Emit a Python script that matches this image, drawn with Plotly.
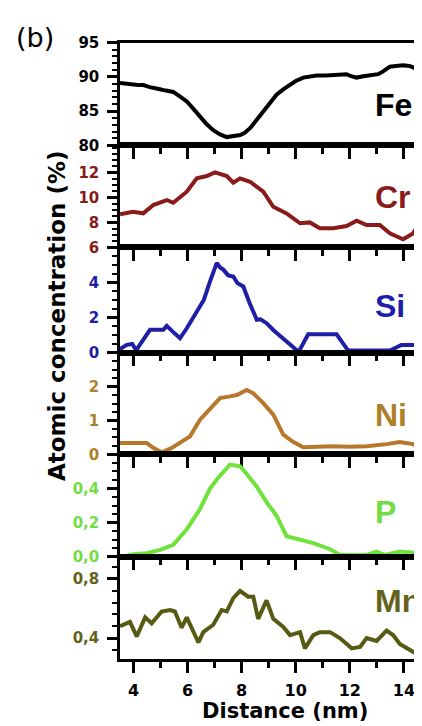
import plotly.graph_objects as go

# ---------------- data ----------------
fe_x = [3.50, 3.56, 3.80, 4.00, 4.20, 4.36, 4.60, 4.80, 4.98, 5.20, 5.47, 5.70, 5.97, 6.20, 6.46, 6.70,
        6.95, 7.20, 7.45, 7.70, 7.94, 8.10, 8.31, 8.55, 8.80, 9.05, 9.29, 9.55, 9.79, 10.00, 10.28,
        10.50, 10.77, 11.10, 11.39, 11.60, 11.88, 12.05, 12.25, 12.50, 12.87, 13.05, 13.23, 13.48,
        13.70, 13.97, 14.20, 14.34, 14.50, 14.67]
fe_y = [89.1, 89.06, 88.9, 88.9, 88.8, 88.8, 88.5, 88.4, 88.2, 88.0, 87.8, 87.2, 86.4, 85.4, 84.2, 83.1,
        82.2, 81.6, 81.2, 81.4, 81.5, 81.8, 82.5, 83.7, 84.9, 86.2, 87.4, 88.2, 88.8, 89.4, 89.9,
        90.0, 90.2, 90.2, 90.3, 90.3, 90.4, 90.1, 89.9, 90.1, 90.3, 90.4, 90.8, 91.5,
        91.6, 91.7, 91.6, 91.4, 91.0, 90.0]

cr_x = [3.50, 3.56, 3.97, 4.36, 4.73, 5.23, 5.47, 5.97, 6.34, 6.71, 7.01, 7.45, 7.69, 7.94, 8.31, 8.80,
        9.17, 9.66, 10.16, 10.52, 10.89, 11.39, 11.88, 12.25, 12.62, 13.11, 13.48, 13.97, 14.34, 14.67]
cr_y = [8.65, 8.67, 8.86, 8.73, 9.40, 9.80, 9.58, 10.47, 11.54, 11.73, 12.02, 11.73, 11.19, 11.54, 11.27,
        10.47, 9.26, 8.73, 7.93, 8.00, 7.53, 7.53, 7.71, 8.14, 7.79, 7.79, 7.12, 6.64, 7.12, 8.3]

si_x = [3.50, 3.75, 3.95, 4.10, 4.30, 4.61, 5.10, 5.23, 5.45, 5.72, 5.97, 6.20, 6.46, 6.60, 6.83, 7.08,
        7.20, 7.32, 7.50, 7.69, 7.85, 8.06, 8.30, 8.56, 8.70, 8.92, 9.20, 9.54, 9.80, 10.03, 10.09,
        10.46, 11.51, 11.94, 13.48, 13.91, 14.67]
si_y = [0.20, 0.45, 0.50, 0.15, 0.60, 1.30, 1.30, 1.53, 1.20, 0.82, 1.39, 2.00, 2.73, 3.00, 4.06, 5.11,
        4.85, 4.73, 4.40, 4.34, 3.95, 3.77, 2.80, 1.87, 1.90, 1.68, 1.25, 0.82, 0.50, 0.15, 0.00,
        1.05, 1.05, 0.12, 0.12, 0.44, 0.44]

ni_x = [3.50, 3.56, 4.49, 4.73, 5.04, 5.40, 5.72, 6.09, 6.46, 6.83, 7.20, 7.57, 7.82, 8.19, 8.43, 8.80,
        9.17, 9.54, 9.91, 10.28, 10.80, 11.39, 12.00, 12.62, 13.36, 13.85, 14.34, 14.67]
ni_y = [0.33, 0.33, 0.33, 0.19, 0.06, 0.18, 0.33, 0.53, 1.02, 1.36, 1.66, 1.71, 1.75, 1.90, 1.80, 1.51,
        1.17, 0.58, 0.36, 0.21, 0.22, 0.24, 0.22, 0.24, 0.30, 0.36, 0.30, 0.15]

p_x = [3.50, 3.56, 4.00, 4.50, 4.98, 5.47, 5.97, 6.46, 6.83, 7.20, 7.57, 7.94, 8.19, 8.56, 8.92, 9.29,
       9.66, 10.16, 10.65, 11.27, 11.63, 12.62, 12.99, 13.30, 13.85, 14.67]
p_y = [0.00, 0.00, 0.014, 0.02, 0.04, 0.07, 0.16, 0.28, 0.40, 0.475, 0.54, 0.53, 0.485, 0.41, 0.32, 0.24,
       0.12, 0.10, 0.08, 0.044, 0.01, 0.01, 0.03, 0.01, 0.03, 0.02]

mn_x = [3.50, 3.56, 3.87, 4.12, 4.43, 4.67, 5.04, 5.35, 5.53, 5.78, 5.97, 6.40, 6.58, 6.95, 7.26, 7.45,
        7.69, 7.94, 8.24, 8.43, 8.61, 8.92, 9.17, 9.54, 9.79, 10.16, 10.34, 10.65, 10.89, 11.27, 11.63,
        12.07, 12.38, 12.62, 12.99, 13.36, 13.60, 13.85, 14.34, 14.67]
mn_y = [0.48, 0.486, 0.51, 0.41, 0.54, 0.50, 0.58, 0.59, 0.58, 0.47, 0.54, 0.37, 0.44, 0.49, 0.59, 0.58,
        0.67, 0.72, 0.68, 0.68, 0.53, 0.655, 0.53, 0.475, 0.42, 0.44, 0.33, 0.42, 0.44, 0.44, 0.40,
        0.33, 0.34, 0.40, 0.38, 0.45, 0.42, 0.36, 0.305, 0.27]

names = ["Fe", "Cr", "Si", "Ni", "P", "Mn"]
xs = [fe_x, cr_x, si_x, ni_x, p_x, mn_x]
ys = [fe_y, cr_y, si_y, ni_y, p_y, mn_y]

y_ranges = [[80, 95], [6, 14.2], [0, 6], [0, 3], [0, 0.6], [0.258, 0.951]]
y_tickvals = [[80, 85, 90, 95], [6, 8, 10, 12], [0, 2, 4], [0, 1, 2], [0.0, 0.2, 0.4], [0.4, 0.8]]
y_ticktext = [["80", "85", "90", "95"], ["6", "8", "10", "12"], ["0", "2", "4"], ["0", "1", "2"],
              ["0,0", "0,2", "0,4"], ["0,4", "0,8"]]
y_minor = [1, 0.5, 0.5, 0.25, 0.05, 0.08]
y_minor0 = [80, 6, 0, 0, 0, 0.32]
label_y = [85.9, 10.04, 2.67, 1.17, 0.262, 0.65]

x_tickvals = [4, 6, 8, 10, 12, 14]
x_range = [3.5, 14.67]

line_colors = ["#000000", "#8a1b1b", "#1e1ea6", "#b8782c", "#6fe23c", "#575a12"]
label_colors = ["#000000", "#8a1b1b", "#1e1ea6", "#b07f2a", "#74dc44", "#62621c"]

# ---------------- layout geometry ----------------
# the page body has an 8px margin, so the figure is drawn 8px smaller and
# every target pixel position (page coords) is shifted by OFF.
OFF = 8
W, H = 422 - OFF, 726 - OFF
PL = 120  # page x of plot-area left edge
PW = 422 - PL
bounds = [42.7, 145.3, 247.3, 352.7, 454.3, 556.7, 659.0]


def py2paper(py):
    return 1 - (py - OFF) / H


def px2paper(px):
    return (px - PL) / PW


FONT = "DejaVu Sans"
LFONT = "Liberation Sans"

fig = go.Figure()
layout = dict(
    width=W, height=H,
    margin=dict(l=PL - OFF, r=0, t=0, b=0, autoexpand=False),
    paper_bgcolor="white", plot_bgcolor="white",
    showlegend=False,
)

annotations = []
for i in range(6):
    n = i + 1
    xa = "x" if n == 1 else f"x{n}"
    ya = "y" if n == 1 else f"y{n}"
    fig.add_trace(go.Scatter(x=xs[i], y=ys[i], mode="lines",
                             line=dict(color=line_colors[i], width=4),
                             xaxis=xa, yaxis=ya, hoverinfo="skip"))
    dom = [py2paper(bounds[i + 1]), py2paper(bounds[i])]
    layout[f"xaxis{n}" if n > 1 else "xaxis"] = dict(
        domain=[0, 1], anchor=ya, range=x_range, showgrid=False, zeroline=False,
        showline=True, linecolor="black", linewidth=2.5, mirror=True,
        ticks="outside", ticklen=11, tickwidth=2.5, tickcolor="black",
        tickvals=x_tickvals, showticklabels=(i == 5),
        tickfont=dict(family=FONT, size=16, color="black", weight="bold"),
        ticklabelstandoff=4,
        minor=dict(dtick=1, tick0=0, ticks="outside", ticklen=6, tickwidth=2.5, tickcolor="black"),
        automargin=False,
    )
    layout[f"yaxis{n}" if n > 1 else "yaxis"] = dict(
        domain=dom, anchor=xa, range=y_ranges[i], showgrid=False, zeroline=False,
        showline=True, linecolor="black", linewidth=2.5, mirror=False,
        ticks="outside", ticklen=10, tickwidth=2.5, tickcolor="black",
        tickvals=y_tickvals[i], ticktext=y_ticktext[i],
        tickfont=dict(family=FONT, size=15, color=label_colors[i], weight="bold"),
        ticklabelstandoff=5,
        minor=dict(dtick=y_minor[i], tick0=y_minor0[i], ticks="outside", ticklen=5,
                   tickwidth=2, tickcolor="black"),
        automargin=False,
    )
    # right-side inward ticks (overlay axis)
    m = n + 6
    layout[f"yaxis{m}"] = dict(
        domain=dom, anchor=xa, overlaying=ya, side="right", range=y_ranges[i],
        showgrid=False, zeroline=False, showline=False,
        ticks="inside", ticklen=8, tickwidth=2.5, tickcolor="black",
        tickvals=[v for v in y_tickvals[i] if y_ranges[i][0] < v < y_ranges[i][1]],
        showticklabels=False, automargin=False,
    )
    fig.add_trace(go.Scatter(x=[x_range[0]], y=[y_ranges[i][0]], mode="markers",
                             marker=dict(opacity=0), xaxis=xa, yaxis=f"y{m}", hoverinfo="skip"))
    annotations.append(dict(
        x=12.85, y=label_y[i], xref=xa, yref=ya, xanchor="left", yanchor="middle",
        text=names[i], showarrow=False,
        font=dict(family=LFONT, size=32, color=label_colors[i], weight="bold"),
    ))

annotations.append(dict(
    x=px2paper(57), y=py2paper(316), xref="paper", yref="paper",
    text="Atomic concentration (%)", textangle=-90, showarrow=False,
    xanchor="center", yanchor="middle",
    font=dict(family=FONT, size=23, color="black", weight="bold"),
))
annotations.append(dict(
    x=px2paper(285), y=py2paper(711), xref="paper", yref="paper",
    text="Distance (nm)", showarrow=False, xanchor="center", yanchor="middle",
    font=dict(family=FONT, size=21, color="black", weight="bold"),
))
annotations.append(dict(
    x=px2paper(35), y=py2paper(37), xref="paper", yref="paper",
    text="(b)", showarrow=False, xanchor="center", yanchor="middle",
    font=dict(family=FONT, size=27, color="black"),
))
layout["annotations"] = annotations

fig.update_layout(**layout)
fig.write_html("out.html")
